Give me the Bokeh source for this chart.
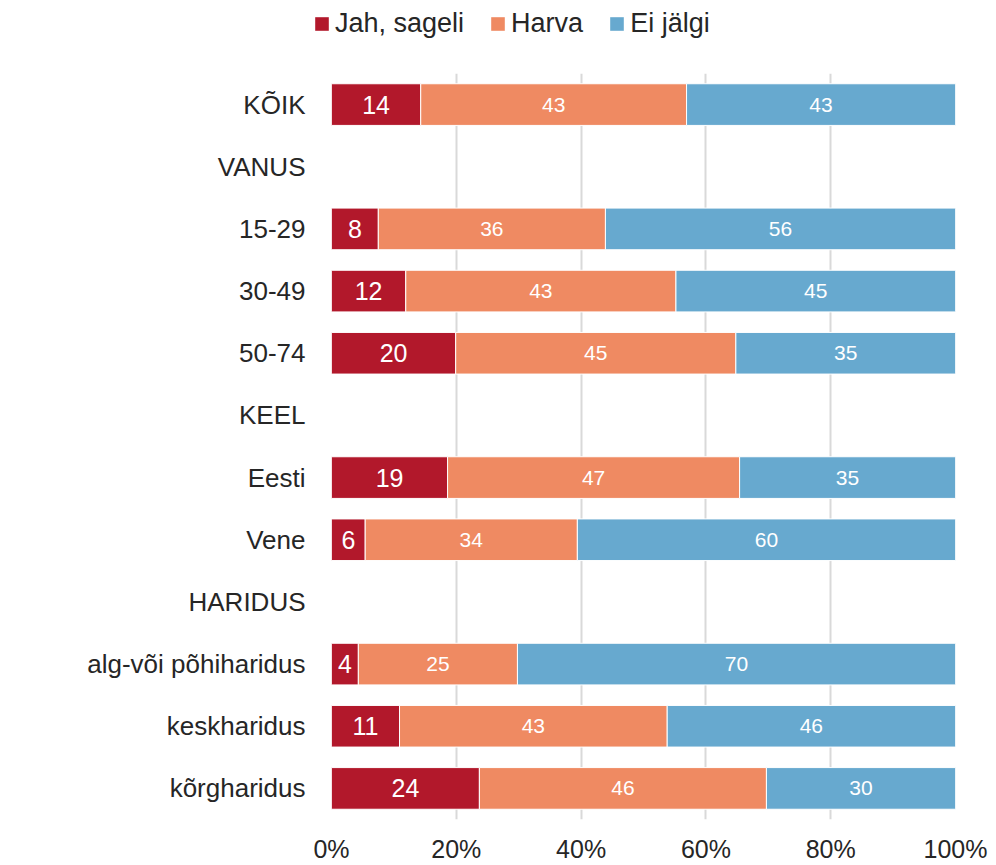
from bokeh.plotting import figure
from bokeh.layouts import column
from bokeh.models import ColumnDataSource, FactorRange, Range1d, Legend, LegendItem, FixedTicker, LabelSet
from bokeh.core.properties import value
from bokeh.embed import file_html
from bokeh.resources import INLINE

# ---- data ----
rows = ["KÕIK", "VANUS", "15-29", "30-49", "50-74", "KEEL", "Eesti", "Vene",
        "HARIDUS", "alg-või põhiharidus", "keskharidus", "kõrgharidus"]
bar_rows = ["KÕIK", "15-29", "30-49", "50-74", "Eesti", "Vene",
            "alg-või põhiharidus", "keskharidus", "kõrgharidus"]
jah = [14.3, 7.5, 11.9, 19.9, 18.6, 5.4, 4.3, 10.9, 23.7]
harva = [42.6, 36.4, 43.3, 44.9, 46.8, 34.0, 25.5, 42.9, 46.0]
ei = [43.1, 56.1, 44.8, 35.2, 34.6, 60.6, 70.2, 46.2, 30.3]
jah_lbl = ["14", "8", "12", "20", "19", "6", "4", "11", "24"]
harva_lbl = ["43", "36", "43", "45", "47", "34", "25", "43", "46"]
ei_lbl = ["43", "56", "45", "35", "35", "60", "70", "46", "30"]
series = ["Jah, sageli", "Harva", "Ei jälgi"]
colors = ["#B2182B", "#EF8A62", "#67A9CF"]
x_ticks = [0, 20, 40, 60, 80, 100]

FONT = "Liberation Sans"
TXT = "#262626"
W = 992
LEG_H = 60

# ---- main chart ----
p = figure(width=W, height=865 - LEG_H, output_backend="svg", toolbar_location=None,
           y_range=FactorRange(factors=list(reversed(rows)), range_padding=0),
           x_range=Range1d(0, 100),
           min_border_left=331, min_border_right=W - 955, min_border_bottom=45,
           min_border_top=73 - LEG_H)
p.frame_align = False
p.outline_line_color = None
p.ygrid.grid_line_color = None
p.xgrid.grid_line_color = "#d9d9d9"
p.xgrid.grid_line_width = 2
p.xaxis.ticker = FixedTicker(ticks=x_ticks)
p.xaxis.major_label_overrides = {t: f"{t}%" for t in x_ticks}
for ax in (p.xaxis, p.yaxis):
    ax.axis_line_color = None
    ax.major_tick_line_color = None
    ax.minor_tick_line_color = None
    ax.major_tick_out = 0
    ax.major_tick_in = 0
    ax.major_label_text_font = FONT
    ax.major_label_text_font_size = "25px"
    ax.major_label_text_color = TXT
p.xaxis.major_label_standoff = 15
p.yaxis.major_label_standoff = 26
p.yaxis.major_label_text_font_size = "26px"

vals = [jah, harva, ei]
lbls = [jah_lbl, harva_lbl, ei_lbl]
left = [0.0] * len(bar_rows)
for name, v, lb, c in zip(series, vals, lbls, colors):
    right = [a + b for a, b in zip(left, v)]
    mid = [(a + b) / 2 for a, b in zip(left, right)]
    src = ColumnDataSource(dict(y=bar_rows, left=left, right=right, mid=mid, lbl=lb))
    p.hbar(y="y", left="left", right="right", height=0.67, source=src,
           fill_color=c, line_color="white", line_width=1)
    size = "25px" if name == series[0] else "21px"
    p.add_layout(LabelSet(x="mid", y="y", text="lbl", source=src,
                          text_align="center", text_baseline="middle",
                          text_color="white", text_font=value(FONT),
                          text_font_size=size))
    left = right

# ---- legend strip (zero-size proxy glyphs carry the swatch colours) ----
lf = figure(width=W, height=LEG_H, output_backend="svg", toolbar_location=None,
            x_range=Range1d(0, 1), y_range=Range1d(0, 1),
            x_axis_location=None, y_axis_location=None,
            min_border=0, min_border_left=0, min_border_right=0,
            min_border_top=0, min_border_bottom=0)
lf.frame_align = False
lf.outline_line_color = None
lf.grid.visible = False
leg_renderers = [lf.hbar(y=[0], left=[0], right=[0], height=0, fill_color=c,
                         line_color=None) for c in colors]
legend = Legend(items=[LegendItem(label=s, renderers=[r]) for s, r in zip(series, leg_renderers)],
                orientation="horizontal", location=(313, 21),
                glyph_width=17, glyph_height=17, label_standoff=5, spacing=25,
                label_text_font=FONT, label_text_font_size="27px",
                label_text_color=TXT, border_line_color=None,
                background_fill_alpha=0, padding=0, margin=0, label_height=27)
lf.add_layout(legend, "center")

open("out.html", "w").write(file_html(column(lf, p, spacing=0), INLINE))
